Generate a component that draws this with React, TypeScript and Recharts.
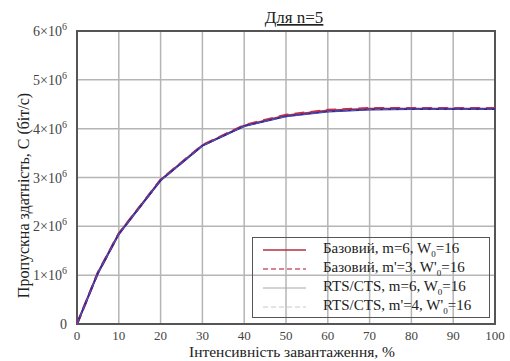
import React from "react";
import {
  LineChart,
  Line,
  XAxis,
  YAxis,
  CartesianGrid,
  ReferenceArea,
  Legend,
} from "recharts";

// Інтенсивність завантаження, %
const load = [0, 5, 10, 20, 30, 40, 50, 60, 70, 80, 90, 100];

// Пропускна здатність, млн біт/с
const basic6 = [0, 1.05, 1.85, 2.95, 3.66, 4.06, 4.27, 4.37, 4.41, 4.41, 4.41, 4.41];
const basic3 = [0, 1.05, 1.85, 2.95, 3.66, 4.07, 4.28, 4.38, 4.42, 4.42, 4.42, 4.42];
const rts6 = [0, 1.04, 1.84, 2.94, 3.65, 4.05, 4.25, 4.35, 4.39, 4.4, 4.4, 4.4];
const rts4 = [0, 1.04, 1.84, 2.94, 3.65, 4.05, 4.25, 4.35, 4.39, 4.4, 4.4, 4.4];

const xTicks = [0, 10, 20, 30, 40, 50, 60, 70, 80, 90, 100];
const yTicks = [0, 1e6, 2e6, 3e6, 4e6, 5e6, 6e6];

const seriesNames = [
  "Базовий, m=6, W",
  "Базовий, m'=3, W'",
  "RTS/CTS, m=6, W",
  "RTS/CTS, m'=4, W'",
];

const data = load.map((x, i) => ({
  x,
  basic6: basic6[i] * 1e6,
  basic3: basic3[i] * 1e6,
  rts6: rts6[i] * 1e6,
  rts4: rts4[i] * 1e6,
}));

const FONT = "'Liberation Serif', 'Times New Roman', serif";

const YTick = (props: any) => {
  const { x, y, payload } = props;
  const v = payload.value;
  if (v === 0) {
    return (
      <text x={x} y={y + 5} textAnchor="end" fontFamily={FONT} fontSize={14} fill="#444">
        0
      </text>
    );
  }
  return (
    <text x={x} y={y + 5} textAnchor="end" fontFamily={FONT} fontSize={14} fill="#444">
      {v / 1e6}×10
      <tspan dy={-6} fontSize={10}>6</tspan>
    </text>
  );
};

const legendLines = [
  { stroke: "#b3303f", width: 1.6, dash: undefined },
  { stroke: "#d05a72", width: 1.6, dash: "5 3" },
  { stroke: "#a8a8a8", width: 1, dash: undefined },
  { stroke: "#c8c8c8", width: 1, dash: "5 3" },
];

const LegendBox = () => (
  <div
    style={{
      border: "1px solid #555",
      width: 238,
      height: 81,
      boxSizing: "border-box",
      paddingTop: 2,
      fontFamily: FONT,
      fontSize: 15,
      color: "#222",
    }}
  >
    {seriesNames.map((name, i) => (
      <div key={name} style={{ display: "flex", alignItems: "center", height: 19 }}>
        <svg width={70} height={19}>
          <line
            x1={10}
            x2={53}
            y1={10}
            y2={10}
            stroke={legendLines[i].stroke}
            strokeWidth={legendLines[i].width}
            strokeDasharray={legendLines[i].dash}
          />
        </svg>
        <span style={{ whiteSpace: "nowrap" }}>
          {name}
          <sub style={{ fontSize: 9 }}>0</sub>=16
        </span>
      </div>
    ))}
  </div>
);

export default function App() {
  return (
    <div style={{ position: "fixed", left: 0, top: 0, width: 510, height: 361, background: "#fff" }}>
      <LineChart
        width={510}
        height={361}
        data={data}
        margin={{ top: 31, right: 15, bottom: 7, left: 17 }}
      >
        <CartesianGrid stroke="#b5b5b5" strokeWidth={1.5} />
        <XAxis
          dataKey="x"
          type="number"
          domain={[0, 100]}
          ticks={xTicks}
          axisLine={false}
          tickLine={false}
          height={30}
          tick={{ fontFamily: FONT, fontSize: 13, fill: "#444" }}
          tickMargin={1}
        />
        <YAxis
          type="number"
          domain={[0, 6e6]}
          ticks={yTicks}
          axisLine={false}
          tickLine={false}
          width={60}
          tick={<YTick />}
          tickMargin={4}
          label={{
            value: "Пропускна здатність, C (біт/с)",
            angle: -90,
            position: "insideLeft",
            offset: 6,
            dy: 18,
            style: { fontFamily: FONT, fontSize: 16, fill: "#222", textAnchor: "middle" },
          }}
        />
        <ReferenceArea
          x1={0}
          x2={100}
          y1={0}
          y2={6e6}
          fill="none"
          stroke="#555"
          strokeWidth={2}
        />
        <Line dataKey="basic6" stroke="#b3303f" strokeWidth={2} dot={false} isAnimationActive={false} />
        <Line
          dataKey="basic3"
          stroke="#c0304a"
          strokeWidth={2.5}
          strokeDasharray="10 6"
          dot={false}
          isAnimationActive={false}
        />
        <Line dataKey="rts6" stroke="#2b2b9c" strokeWidth={1.8} dot={false} isAnimationActive={false} />
        <Line
          dataKey="rts4"
          stroke="#5a5ac0"
          strokeWidth={1}
          strokeDasharray="5 3"
          dot={false}
          isAnimationActive={false}
        />
        <Legend
          layout="vertical"
          align="center"
          verticalAlign="middle"
          wrapperStyle={{ left: 252, top: 237, width: 238, height: 81 }}
          content={<LegendBox />}
        />
        <text
          x={294}
          y={23}
          textAnchor="middle"
          fontFamily={FONT}
          fontSize={17}
          fill="#222"
          textDecoration="underline"
        >
          Для n=5
        </text>
        <text x={292} y={357} textAnchor="middle" fontFamily={FONT} fontSize={15.5} fill="#222">
          Інтенсивність завантаження, %
        </text>
      </LineChart>
    </div>
  );
}
